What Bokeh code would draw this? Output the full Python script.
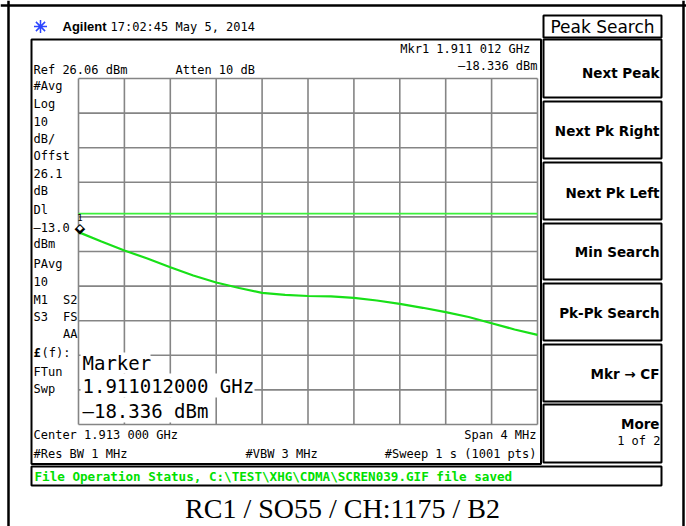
from bokeh.plotting import figure
from bokeh.models import Range1d
from bokeh.core.properties import value
from bokeh.embed import file_html
from bokeh.resources import INLINE

# ---------------- data ----------------
center_ghz = 1.913
span_ghz = 0.004
ref_dbm = 26.06
db_per_div = 10
n_div = 10
display_line_dbm = -13.0

trace_freq_ghz = [1.9110, 1.9112, 1.9114, 1.9116, 1.9118, 1.9120, 1.9122,
                  1.9124, 1.9126, 1.9128, 1.9130, 1.9132, 1.9134, 1.9136,
                  1.9138, 1.9140, 1.9142, 1.9144, 1.9146, 1.9148, 1.9150]
trace_dbm = [-18.34, -21.05, -23.65, -25.96, -28.48, -30.88, -32.90,
             -34.49, -35.88, -36.45, -36.80, -36.89, -37.32, -38.10,
             -39.06, -40.21, -41.48, -42.87, -44.66, -46.48, -48.02]

marker_freq_ghz = 1.911012
marker_dbm = -18.336

softkey_title = "Peak Search"
softkeys = ["Next Peak", "Next Pk Right", "Next Pk Left", "Min Search",
            "Pk-Pk Search", "Mkr \u2192 CF", "More"]
left_annot = ["#Avg", "Log", "10", "dB/", "Offst", "26.1", "dB", "Dl",
              "\u201313.0", "dBm", "PAvg", "10", "M1", "S3", "", "", "FTun", "Swp"]

# ---------------- layout ----------------
W, H = 686, 526
GX0, GX1, GY0, GY1 = 78, 537, 78, 424

f_left = center_ghz - span_ghz / 2
f_per_px = span_ghz / (GX1 - GX0)
fx0 = f_left - GX0 * f_per_px
db_per_px = db_per_div * n_div / (GY1 - GY0)
dtop = ref_dbm + GY0 * db_per_px
dbot = ref_dbm - (H - GY0) * db_per_px

p = figure(width=W, height=H, x_range=Range1d(0, W), y_range=Range1d(H, 0),
           x_axis_type=None, y_axis_type=None, toolbar_location=None,
           output_backend="svg", min_border=0, outline_line_color=None,
           background_fill_color="white", border_fill_color="white")
p.extra_x_ranges = {"f": Range1d(fx0, fx0 + W * f_per_px)}
p.extra_y_ranges = {"d": Range1d(dbot, dtop)}

# grid
f_ticks = [f_left + span_ghz / n_div * i for i in range(n_div + 1)]
d_ticks = [ref_dbm - db_per_div * i for i in range(n_div + 1)]
f_right = f_ticks[-1]
d_bottom = d_ticks[-1]
p.segment(x0=f_ticks, y0=[ref_dbm] * len(f_ticks), x1=f_ticks, y1=[d_bottom] * len(f_ticks),
          x_range_name="f", y_range_name="d", line_color="#858585", line_width=1.6)
p.segment(x0=[f_left] * len(d_ticks), y0=d_ticks, x1=[f_right] * len(d_ticks), y1=d_ticks,
          x_range_name="f", y_range_name="d", line_color="#858585", line_width=1.6)

# display line
p.segment(x0=[f_left], y0=[display_line_dbm], x1=[f_right], y1=[display_line_dbm],
          x_range_name="f", y_range_name="d", line_color="#3cf03c", line_width=1.8)

# trace
p.line(trace_freq_ghz, trace_dbm, x_range_name="f", y_range_name="d",
       line_color="#18e018", line_width=2.2)

# marker diamond + number
p.text(x=[marker_freq_ghz], y=[marker_dbm], text=["\u25c6"], x_range_name="f", y_range_name="d",
       text_align="center", text_baseline="middle", text_font=value("DejaVu Sans"),
       text_font_size="14px", text_color="black", y_offset=-4)
p.text(x=[marker_freq_ghz], y=[marker_dbm], text=["\u25c6"], x_range_name="f", y_range_name="d",
       text_align="center", text_baseline="middle", text_font=value("DejaVu Sans"),
       text_font_size="7px", text_color="white", y_offset=-4)
p.text(x=[marker_freq_ghz], y=[marker_dbm], text=["1"], x_range_name="f", y_range_name="d",
       text_align="center", text_baseline="middle", text_font=value("DejaVu Sans Mono"),
       text_font_size="9px", text_color="black", y_offset=-15)


def boxes(l, r, t, b, fill=None, line="black", lw=2):
    p.quad(left=l, right=r, top=t, bottom=b,
           fill_color=fill if fill else None, fill_alpha=1 if fill else 0,
           line_color=line, line_width=lw)


def txt(items, font="DejaVu Sans Mono", size="12px", color="black", style="normal", align="left"):
    p.text(x=[i[0] for i in items], y=[i[1] for i in items], text=[i[2] for i in items],
           text_font=value(font), text_font_size=size, text_color=color,
           text_font_style=style, text_align=align, text_baseline="middle")


# white marker readout backgrounds
boxes([80, 80, 80], [150, 254, 212], [352, 373, 397], [373, 397, 422], fill="white", line=None, lw=0)

# frames
boxes([31], [540.5], [39], [463.5])                          # display
sk_top = [39, 101, 162, 223, 283, 344, 404]
sk_bot = [97, 158, 219, 279, 340, 401, 462]
boxes([543] * 8, [661] * 8, [15] + sk_top, [37] + sk_bot)   # softkeys
boxes([31], [661], [466], [485])                             # status bar

# outer table border
p.segment(x0=[8], y0=[0], x1=[8], y1=[H], line_color="black", line_width=2.5)
p.segment(x0=[0], y0=[5], x1=[W], y1=[5], line_color="black", line_width=2.5)
p.segment(x0=[683], y0=[0], x1=[683], y1=[H], line_color="black", line_width=2.5)

# header
p.scatter(x=[40], y=[26], marker="asterisk", size=13, line_color="#2b45ff", line_width=1.5)
txt([(62, 26, "Agilent")], font="Liberation Sans", size="13px", style="bold")
txt([(110, 26, "17:02:45  May 5, 2014")], size="12px")

txt([(33, 69, "Ref 26.06 dBm"), (175, 69, "Atten 10 dB"),
     (33, 434, "Center 1.913 000 GHz"), (33, 453, "#Res BW 1 MHz"),
     (245, 453, "#VBW 3 MHz")])
txt([(537, 48, "Mkr1  1.911 012 GHz"), (537, 65, "\u201318.336 dBm"),
     (536, 434, "Span 4 MHz"), (536, 453, "#Sweep 1 s (1001 pts)"),
     (77, 299, "S2"), (77, 316.5, "FS"), (77, 333.5, "AA")], align="right")

left_y = [85, 103, 121, 138, 155.5, 173, 190, 209, 227, 243, 263, 281, 299, 316.5, 333.5, 352, 371, 388]
txt([(33, y, t) for y, t in zip(left_y, left_annot) if t])
txt([(33, 352, "\u00a3")], style="bold")
txt([(41, 352, "(f):")])

# marker readout
txt([(82, 362, "Marker"), (82, 385, "1.911012000 GHz"), (82, 410, "\u201318.336 dBm")], size="19px")

# softkeys
txt([(602, 26, softkey_title)], font="DejaVu Sans", size="17px", align="center")
sk_y = [72, 130, 192, 251, 312, 373, 423]
txt([(659, y, t) for y, t in zip(sk_y, softkeys)], font="DejaVu Sans", size="13.5px",
    style="bold", align="right")
txt([(660, 440, "1 of 2")], size="12px", align="right")

# status line
txt([(34, 476, "File Operation Status, C:\\TEST\\XHG\\CDMA\\SCREN039.GIF file saved")],
    size="12.6px", color="#00e000", style="bold")

# caption
txt([(342, 508, "RC1 / SO55 / CH:1175 / B2")], font="Liberation Serif", size="28px", align="center")

open("out.html", "w").write(file_html(p, INLINE))
